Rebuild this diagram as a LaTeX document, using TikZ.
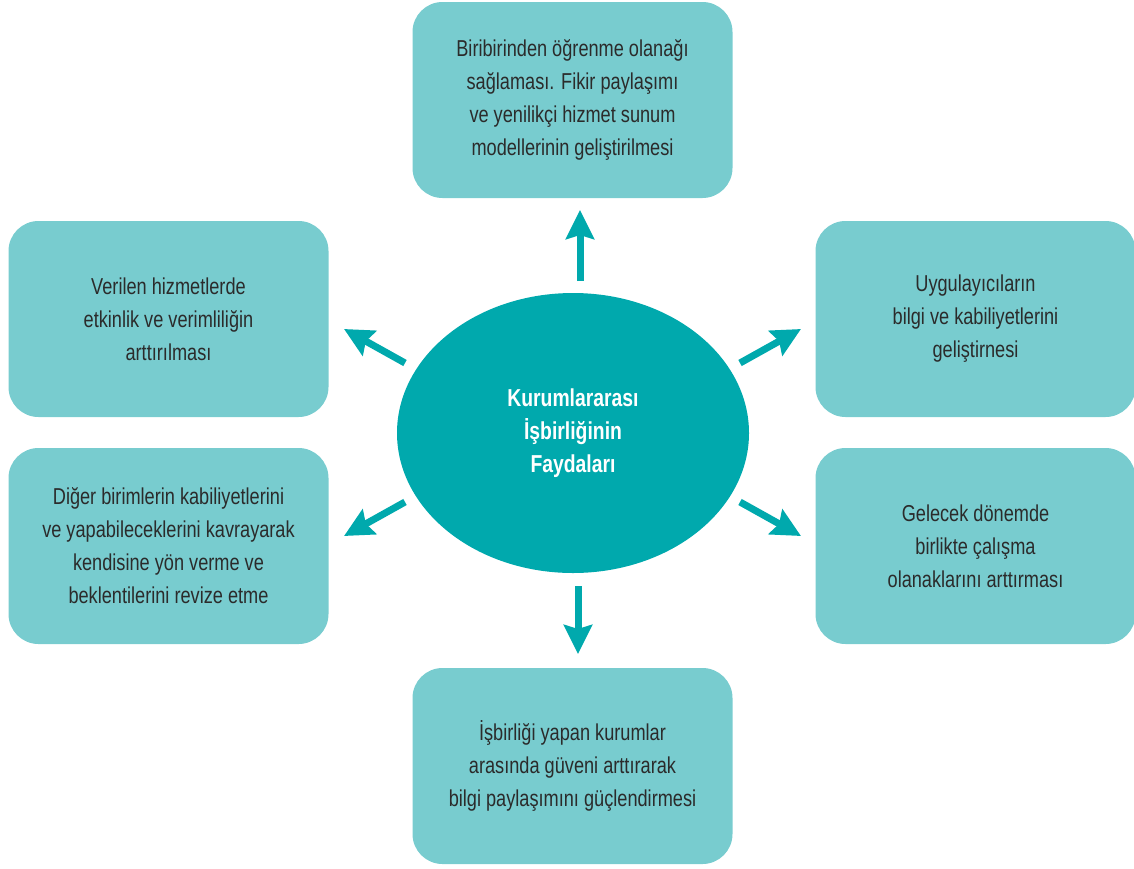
\documentclass[tikz,border=0pt]{standalone}
\usepackage{fontspec}
\setmainfont{Liberation Sans}[FakeStretch=0.79]
\usetikzlibrary{arrows.meta,shapes.geometric}
\definecolor{boxfill}{HTML}{78CCCF}
\definecolor{teal}{HTML}{00A9AD}
\definecolor{txt}{HTML}{2B2B2B}
\begin{document}
\begin{tikzpicture}[x=1pt,y=-1pt,
  benefit/.style={rounded corners=30pt,fill=boxfill,minimum width=320pt,minimum height=196pt,
    align=center,text=txt,font=\fontsize{23}{33}\selectfont,inner sep=0pt},
  arr/.style={draw=teal,line width=7pt,-{Stealth[length=29pt,width=28pt,inset=4pt]}}]
\useasboundingbox (0,0) rectangle (1134,868);
\node[ellipse,fill=teal,minimum width=352pt,minimum height=280pt,inner sep=0pt,
  text=white,align=center,font=\bfseries\fontsize{24.5}{33}\selectfont] (c) at (573,433)
  {Kurumlararası\\İşbirliğinin\\Faydaları};
\node[benefit] (t) at (572.5,100) {Biribirinden öğrenme olanağı\\sağlaması. Fikir paylaşımı\\ve yenilikçi hizmet sunum\\modellerinin geliştirilmesi};
\node[benefit] (lu) at (168.5,319) {Verilen hizmetlerde\\etkinlik ve verimliliğin\\arttırılması};
\node[benefit] (ll) at (168.5,546) {Diğer birimlerin kabiliyetlerini\\ve yapabileceklerini kavrayarak\\kendisine yön verme ve\\beklentilerini revize etme};
\node[benefit] (ru) at (975.5,319) {Uygulayıcıların\\bilgi ve kabiliyetlerini\\geliştirnesi};
\node[benefit] (rl) at (975.5,546) {Gelecek dönemde\\birlikte çalışma\\olanaklarını arttırması};
\node[benefit] (b) at (572.5,766) {İşbirliği yapan kurumlar\\arasında güveni arttırarak\\bilgi paylaşımını güçlendirmesi};
\coordinate (s1) at (580,281); \coordinate (e1) at (580,210);
\coordinate (s2) at (578,586); \coordinate (e2) at (578,654);
\coordinate (s3) at (405,363); \coordinate (e3) at (344,329);
\coordinate (s4) at (405,502); \coordinate (e4) at (344,536);
\coordinate (s5) at (740,363); \coordinate (e5) at (801,329);
\coordinate (s6) at (740,502); \coordinate (e6) at (801,536);
\foreach \i in {1,...,6} \draw[arr] (s\i) -- (e\i);
\end{tikzpicture}
\end{document}
